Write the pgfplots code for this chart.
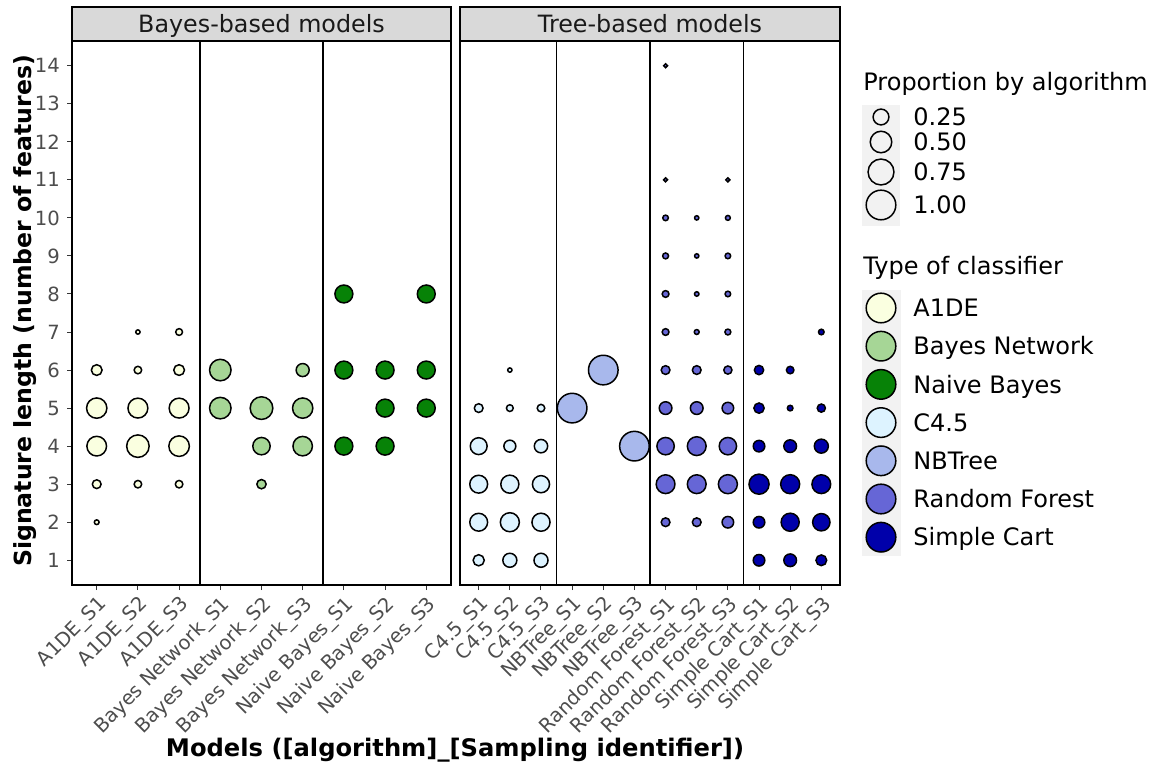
\documentclass[border=0pt]{standalone}
\usepackage{pgfplots}
\pgfplotsset{compat=1.18}
\usepackage{pgfplotstable}
\usepackage{fontspec}
\setmainfont{DejaVu Sans}
\definecolor{cA}{HTML}{FAFFE0}
\definecolor{cBN}{HTML}{A6D696}
\definecolor{cNB}{HTML}{078207}
\definecolor{cC}{HTML}{DDF3FF}
\definecolor{cNBT}{HTML}{A8B8EC}
\definecolor{cRF}{HTML}{6666D6}
\definecolor{cSC}{HTML}{0000AA}
\definecolor{stripgray}{HTML}{D9D9D9}
\definecolor{tickgray}{HTML}{4D4D4D}
\definecolor{keybg}{HTML}{F2F2F2}

\pgfplotstableread{
x y p
1 6 0.10
1 5 0.44
1 4 0.41
1 3 0.06
1 2 0.01
2 7 0.007
2 6 0.04
2 5 0.42
2 4 0.55
2 3 0.04
3 7 0.03
3 6 0.10
3 5 0.42
3 4 0.45
3 3 0.04
}\tabA
\pgfplotstableread{
x y p
4 6 0.50
4 5 0.50
5 5 0.56
5 4 0.31
5 3 0.07
6 6 0.16
6 5 0.44
6 4 0.40
}\tabBN
\pgfplotstableread{
x y p
7 8 0.333
7 6 0.333
7 4 0.333
8 6 0.333
8 5 0.333
8 4 0.333
9 8 0.333
9 6 0.333
9 5 0.333
}\tabNB
\pgfplotstableread{
x y p
1 5 0.06
1 4 0.29
1 3 0.33
1 2 0.33
1 1 0.11
2 6 0.007
2 5 0.03
2 4 0.13
2 3 0.34
2 2 0.38
2 1 0.19
3 5 0.04
3 4 0.17
3 3 0.30
3 2 0.34
3 1 0.19
}\tabC
\pgfplotstableread{
x y p
4 5 1.00
5 6 1.00
6 4 1.00
}\tabNBT
\pgfplotstableread{
x y p
7 14 0.005
7 11 0.005
7 10 0.017
7 9 0.02
7 8 0.03
7 7 0.03
7 6 0.06
7 5 0.15
7 4 0.31
7 3 0.37
7 2 0.06
8 10 0.007
8 9 0.007
8 8 0.008
8 7 0.011
8 6 0.06
8 5 0.15
8 4 0.37
8 3 0.37
8 2 0.06
9 11 0.005
9 10 0.011
9 9 0.017
9 8 0.017
9 7 0.02
9 6 0.05
9 5 0.12
9 4 0.31
9 3 0.38
9 2 0.12
}\tabRF
\pgfplotstableread{
x y p
10 6 0.07
10 5 0.09
10 4 0.12
10 3 0.43
10 2 0.12
10 1 0.12
11 6 0.04
11 5 0.017
11 4 0.15
11 3 0.38
11 2 0.34
11 1 0.15
12 7 0.017
12 5 0.05
12 4 0.19
12 3 0.37
12 2 0.31
12 1 0.10
}\tabSC

\pgfplotsset{
  bubble/.style={scatter, only marks, mark=*,
    scatter/use mapped color={draw=black, fill=#1},
    mark options={line width=0.75pt},
    visualization depends on={0.5+6.9*sqrt(\thisrow{p}) \as \rad},
    scatter/@pre marker code/.append style={/tikz/mark size=\rad pt}},
  panel/.style={scale only axis, anchor=south west, height=272pt,
    ymin=0.35, ymax=14.65, axis line style={line width=1pt},
    tick align=outside, major tick length=2.5pt,
    tick style={color=tickgray!70!black, line width=0.5pt},
    xtick pos=bottom, ytick pos=left,
    ticklabel style={font=\fontsize{9.8}{11}\selectfont, text=tickgray},
    xticklabel style={rotate=45, anchor=north east, inner sep=1.5pt},
    /pgf/number format/assume math mode=true},
}

\begin{document}
\begin{tikzpicture}
\useasboundingbox (0,0) rectangle (577pt,382.5pt);
% left panel
\begin{axis}[panel, at={(36pt,90pt)}, width=189.5pt,
  xmin=0.4, xmax=9.6, xtick={1,...,9},
  xticklabels={A1DE\_S1,A1DE\_S2,A1DE\_S3,Bayes Network\_S1,Bayes Network\_S2,Bayes Network\_S3,Naive Bayes\_S1,Naive Bayes\_S2,Naive Bayes\_S3},
  ytick={1,...,14}]
\draw[line width=0.9pt] (axis cs:3.5,0.35) -- (axis cs:3.5,14.65);
\draw[line width=0.9pt] (axis cs:6.5,0.35) -- (axis cs:6.5,14.65);
\addplot[bubble=cA] table[x=x,y=y] {\tabA};
\addplot[bubble=cBN] table[x=x,y=y] {\tabBN};
\addplot[bubble=cNB] table[x=x,y=y] {\tabNB};
\end{axis}
% right panel
\begin{axis}[panel, at={(230pt,90pt)}, width=190pt,
  xmin=0.4, xmax=12.6, xtick={1,...,12},
  xticklabels={C4.5\_S1,C4.5\_S2,C4.5\_S3,NBTree\_S1,NBTree\_S2,NBTree\_S3,Random Forest\_S1,Random Forest\_S2,Random Forest\_S3,Simple Cart\_S1,Simple Cart\_S2,Simple Cart\_S3},
  ytick=\empty]
\draw[line width=0.9pt] (axis cs:3.5,0.35) -- (axis cs:3.5,14.65);
\draw[line width=0.9pt] (axis cs:6.5,0.35) -- (axis cs:6.5,14.65);
\draw[line width=0.9pt] (axis cs:9.5,0.35) -- (axis cs:9.5,14.65);
\addplot[bubble=cC] table[x=x,y=y] {\tabC};
\addplot[bubble=cNBT] table[x=x,y=y] {\tabNBT};
\addplot[bubble=cRF] table[x=x,y=y] {\tabRF};
\addplot[bubble=cSC] table[x=x,y=y] {\tabSC};
\end{axis}
% strips
\draw[fill=stripgray, line width=1pt] (36pt,362pt) rectangle (225.5pt,379pt);
\draw[fill=stripgray, line width=1pt] (230pt,362pt) rectangle (420pt,379pt);
\node[anchor=base, font=\fontsize{11.9}{14}\selectfont, text=black!90] at (130.75pt,366.3pt) {Bayes-based models};
\node[anchor=base, font=\fontsize{11.9}{14}\selectfont, text=black!90] at (325pt,366.3pt) {Tree-based models};
% axis titles
\node[anchor=base, rotate=90, font=\fontsize{11.8}{14}\selectfont\bfseries] at (15.5pt,227pt) {Signature length (number of features)};
\node[anchor=base, font=\fontsize{12.1}{14}\selectfont\bfseries] at (227.5pt,4.5pt) {Models ([algorithm]\_[Sampling identifier])};
% legend 1
\node[anchor=base west, inner sep=0pt, font=\fontsize{12}{14}\selectfont] at (431.5pt,337pt) {Proportion by algorithm};
\fill[keybg] (431pt,269.5pt) rectangle (450pt,330pt);
\foreach \yy/\pp/\lab in {324/0.25/0.25, 311.5/0.5/0.50, 296.5/0.75/0.75, 280/1/1.00}{
  \pgfmathsetmacro{\rr}{0.5+6.9*sqrt(\pp)}
  \draw[line width=0.75pt] (440.5pt,\yy pt) circle[radius=\rr pt];
  \node[anchor=base west, font=\fontsize{12}{14}\selectfont, inner sep=0pt] at (456.5pt,\yy pt-4.4pt) {\lab};
}
% legend 2
\node[anchor=base west, inner sep=0pt, font=\fontsize{12}{14}\selectfont] at (431.5pt,245pt) {Type of classifier};
\fill[keybg] (431pt,104.5pt) rectangle (450.5pt,237.5pt);
\foreach \yy/\cc/\lab in {228.5/cA/A1DE, 209.4/cBN/Bayes Network, 190.3/cNB/Naive Bayes, 171.2/cC/C4.5, 152.1/cNBT/NBTree, 133/cRF/Random Forest, 113.9/cSC/Simple Cart}{
  \draw[line width=0.75pt, fill=\cc] (440.5pt,\yy pt) circle[radius=7.4pt];
  \node[anchor=base west, font=\fontsize{12}{14}\selectfont, inner sep=0pt] at (456.5pt,\yy pt-4.4pt) {\lab};
}
\end{tikzpicture}
\end{document}
